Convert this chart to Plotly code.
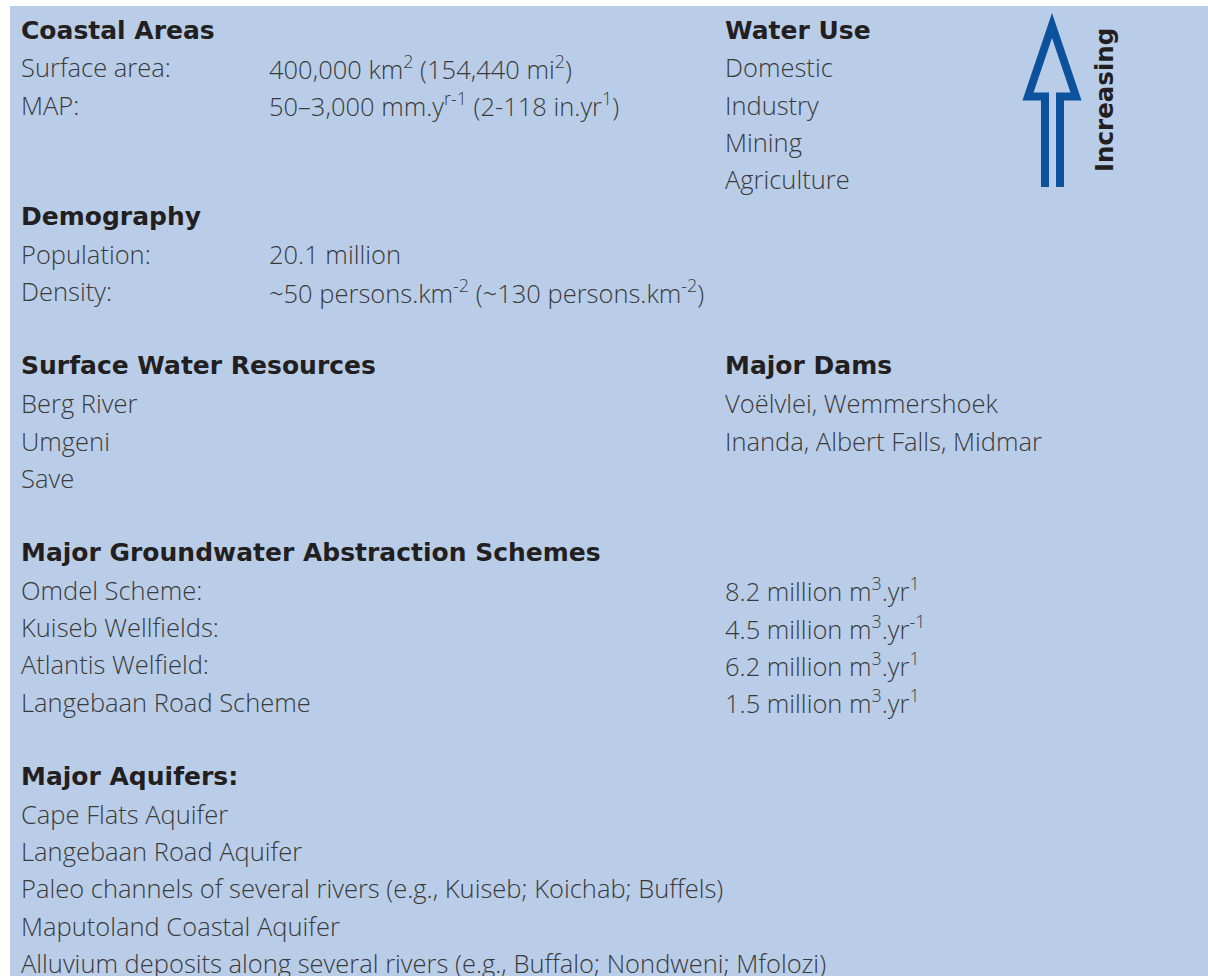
import plotly.graph_objects as go

# ---------------- data ----------------
coastal_title = "Coastal Areas"
coastal_labels = ["Surface area:", "MAP:"]
coastal_values = ["400,000 km<sup>2</sup> (154,440 mi<sup>2</sup>)",
                  "50\u20133,000 mm.y<sup>r-1</sup> (2-118 in.yr<sup>1</sup>)"]

water_use_title = "Water Use"
water_use = ["Domestic", "Industry", "Mining", "Agriculture"]
arrow_label = "Increasing"

demography_title = "Demography"
demography_labels = ["Population:", "Density:"]
demography_values = ["20.1 million",
                      "~50 persons.km<sup>-2</sup> (~130 persons.km<sup>-2</sup>)"]

surface_title = "Surface Water Resources"
surface_water = ["Berg River", "Umgeni", "Save"]

dams_title = "Major Dams"
major_dams = ["Vo\u00eblvlei, Wemmershoek", "Inanda, Albert Falls, Midmar"]

gw_title = "Major Groundwater Abstraction Schemes"
gw_schemes = ["Omdel Scheme:", "Kuiseb Wellfields:", "Atlantis Welfield:", "Langebaan Road Scheme"]
gw_yield_million_m3 = [8.2, 4.5, 6.2, 1.5]
gw_yield_exponent = ["1", "-1", "1", "1"]

aquifer_title = "Major Aquifers:"
aquifers = ["Cape Flats Aquifer",
            "Langebaan Road Aquifer",
            "Paleo channels of several rivers (e.g., Kuiseb; Koichab; Buffels)",
            "Maputoland Coastal Aquifer",
            "Alluvium deposits along several rivers (e.g., Buffalo; Nondweni; Mfolozi)"]

# ---------------- layout constants (page pixel coordinates) ----------------
PAGE_W, PAGE_H = 1208, 976
BG = "#b9cde9"
HEAD_COL = "#231f20"
BODY_COL = "#3a3a3a"
ARROW_COL = "#0b519b"
ROW0, PITCH = 30, 37.32
X_LEFT, X_VAL, X_RIGHT = 22, 270, 726
HEAD_FONT = dict(family="DejaVu Sans", size=25, color=HEAD_COL, weight="bold")
BODY_FONT = dict(family="Open Sans", size=25.5, color=BODY_COL, weight=300)

def row_y(r):
    return ROW0 + PITCH * r

annotations = []

def add_text(x, r, text, font):
    annotations.append(dict(x=x - 2, y=row_y(r), xref="x", yref="y", text=text,
                            showarrow=False, xanchor="left", yanchor="middle",
                            font=font, align="left", borderpad=0))

add_text(X_LEFT, 0, coastal_title, HEAD_FONT)
for i, (lab, val) in enumerate(zip(coastal_labels, coastal_values)):
    add_text(X_LEFT, 1 + i, lab, BODY_FONT)
    add_text(X_VAL, 1 + i, val, BODY_FONT)

add_text(X_LEFT, 5, demography_title, HEAD_FONT)
for i, (lab, val) in enumerate(zip(demography_labels, demography_values)):
    add_text(X_LEFT, 6 + i, lab, BODY_FONT)
    add_text(X_VAL, 6 + i, val, BODY_FONT)

add_text(X_LEFT, 9, surface_title, HEAD_FONT)
for i, s in enumerate(surface_water):
    add_text(X_LEFT, 10 + i, s, BODY_FONT)

add_text(X_LEFT, 14, gw_title, HEAD_FONT)
for i, (s, v, e) in enumerate(zip(gw_schemes, gw_yield_million_m3, gw_yield_exponent)):
    add_text(X_LEFT, 15 + i, s, BODY_FONT)
    add_text(X_RIGHT, 15 + i, f"{v} million m<sup>3</sup>.yr<sup>{e}</sup>", BODY_FONT)

add_text(X_LEFT, 20, aquifer_title, HEAD_FONT)
for i, a in enumerate(aquifers):
    add_text(X_LEFT, 21 + i, a, BODY_FONT)

add_text(X_RIGHT, 0, water_use_title, HEAD_FONT)
for i, w in enumerate(water_use):
    add_text(X_RIGHT, 1 + i, w, BODY_FONT)

add_text(X_RIGHT, 9, dams_title, HEAD_FONT)
for i, d in enumerate(major_dams):
    add_text(X_RIGHT, 10 + i, d, BODY_FONT)

annotations.append(dict(x=1104, y=100, xref="x", yref="y", text=arrow_label,
                        showarrow=False, textangle=-90, xanchor="center", yanchor="middle",
                        font=dict(family="DejaVu Sans", size=24.5, color=HEAD_COL, weight="bold")))

shapes = [
    dict(type="rect", xref="x", yref="y", x0=10, x1=PAGE_W + 20, y0=6, y1=PAGE_H + 20,
         fillcolor=BG, line=dict(width=0), layer="below"),
    dict(type="path", xref="x", yref="y",
         path="M1045,187 L1045,96.5 L1028,96.5 L1052,25.5 L1076,96.5 L1060,96.5 L1060,187",
         line=dict(color=ARROW_COL, width=8), fillcolor="rgba(0,0,0,0)"),
]

fig = go.Figure()
fig.add_trace(go.Scatter(x=[0, PAGE_W], y=[0, PAGE_H], mode="markers",
                         marker=dict(opacity=0), hoverinfo="skip", showlegend=False))
fig.update_layout(
    width=PAGE_W, height=PAGE_H, margin=dict(l=0, r=0, t=0, b=0),
    paper_bgcolor="white", plot_bgcolor="white",
    xaxis=dict(range=[0, PAGE_W], visible=False, fixedrange=True),
    yaxis=dict(range=[PAGE_H, 0], visible=False, fixedrange=True),
    annotations=annotations, shapes=shapes, showlegend=False,
)
fig.write_html("out.html", config={"displayModeBar": False},
               post_script="document.body.style.margin='0';"
                           "document.documentElement.style.overflow='hidden';"
                           "document.body.style.overflow='hidden';")
